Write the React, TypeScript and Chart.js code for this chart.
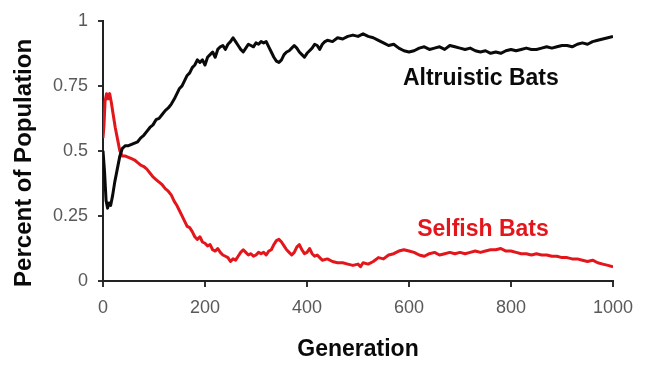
import React, { useEffect, useRef } from "react";
import { Chart, registerables } from "chart.js";

Chart.register(...registerables);

// Altruistic bats (black line)
const altGen = [0, 3, 6, 9, 12, 15, 19, 23, 28, 33, 38, 44, 50, 56, 62, 68, 74, 80, 86, 92, 98, 104, 110, 116, 122, 128, 134, 140, 145, 150, 155, 160, 165, 170, 175, 180, 185, 190, 195, 200, 205, 210, 215, 220, 225, 230, 235, 240, 245, 250, 255, 260, 265, 270, 275, 280, 285, 290, 295, 300, 305, 310, 315, 320, 325, 330, 335, 340, 345, 350, 355, 360, 365, 370, 375, 380, 385, 390, 395, 400, 405, 410, 415, 420, 425, 430, 435, 440, 450, 460, 470, 480, 490, 500, 510, 520, 530, 540, 550, 560, 570, 580, 590, 600, 610, 620, 630, 640, 650, 660, 670, 680, 690, 700, 710, 720, 730, 740, 750, 760, 770, 780, 790, 800, 810, 820, 830, 840, 850, 860, 870, 880, 890, 900, 910, 920, 930, 940, 950, 960, 970, 980, 990, 1000];
const altVal = [0.50, 0.42, 0.31, 0.28, 0.30, 0.29, 0.33, 0.38, 0.43, 0.48, 0.51, 0.52, 0.52, 0.525, 0.53, 0.535, 0.55, 0.56, 0.575, 0.59, 0.60, 0.62, 0.625, 0.64, 0.655, 0.665, 0.68, 0.70, 0.72, 0.74, 0.75, 0.77, 0.79, 0.80, 0.82, 0.83, 0.85, 0.84, 0.85, 0.83, 0.86, 0.87, 0.88, 0.86, 0.89, 0.90, 0.905, 0.89, 0.91, 0.92, 0.935, 0.92, 0.905, 0.89, 0.88, 0.895, 0.91, 0.905, 0.90, 0.915, 0.91, 0.92, 0.915, 0.92, 0.90, 0.88, 0.86, 0.845, 0.84, 0.85, 0.87, 0.88, 0.885, 0.895, 0.905, 0.895, 0.88, 0.87, 0.86, 0.875, 0.885, 0.895, 0.91, 0.905, 0.89, 0.91, 0.92, 0.925, 0.92, 0.935, 0.93, 0.94, 0.945, 0.94, 0.95, 0.94, 0.935, 0.925, 0.915, 0.905, 0.91, 0.895, 0.885, 0.88, 0.885, 0.895, 0.90, 0.89, 0.895, 0.90, 0.89, 0.905, 0.90, 0.895, 0.89, 0.895, 0.885, 0.88, 0.885, 0.875, 0.88, 0.875, 0.885, 0.89, 0.885, 0.89, 0.895, 0.89, 0.89, 0.895, 0.90, 0.895, 0.90, 0.905, 0.905, 0.90, 0.91, 0.915, 0.91, 0.92, 0.925, 0.93, 0.935, 0.94];

// Selfish bats (red line)
const selGen = [0, 2, 4, 7, 10, 13, 16, 20, 24, 28, 33, 38, 44, 50, 56, 62, 68, 74, 80, 86, 92, 98, 104, 110, 116, 122, 128, 134, 140, 145, 150, 155, 160, 165, 170, 175, 180, 185, 190, 195, 200, 205, 210, 215, 220, 225, 230, 235, 240, 245, 250, 255, 260, 265, 270, 275, 280, 285, 290, 295, 300, 305, 310, 315, 320, 325, 330, 335, 340, 345, 350, 355, 360, 365, 370, 375, 380, 385, 390, 395, 400, 405, 410, 415, 420, 425, 430, 440, 450, 460, 470, 480, 490, 500, 505, 510, 520, 530, 540, 550, 560, 570, 580, 590, 600, 610, 620, 630, 640, 650, 660, 670, 680, 690, 700, 710, 720, 730, 740, 750, 760, 770, 780, 790, 800, 810, 820, 830, 840, 850, 860, 870, 880, 890, 900, 910, 920, 930, 940, 950, 960, 970, 980, 990, 1000];
const selVal = [0.55, 0.60, 0.69, 0.72, 0.70, 0.72, 0.69, 0.64, 0.59, 0.55, 0.50, 0.48, 0.48, 0.475, 0.47, 0.465, 0.455, 0.445, 0.44, 0.43, 0.415, 0.40, 0.39, 0.38, 0.37, 0.355, 0.345, 0.33, 0.305, 0.29, 0.27, 0.25, 0.23, 0.21, 0.205, 0.19, 0.17, 0.16, 0.17, 0.15, 0.145, 0.135, 0.14, 0.12, 0.115, 0.125, 0.11, 0.10, 0.095, 0.09, 0.075, 0.085, 0.08, 0.095, 0.11, 0.12, 0.11, 0.10, 0.105, 0.095, 0.10, 0.11, 0.105, 0.11, 0.10, 0.115, 0.12, 0.14, 0.155, 0.16, 0.15, 0.135, 0.12, 0.11, 0.10, 0.11, 0.13, 0.14, 0.12, 0.105, 0.11, 0.125, 0.105, 0.095, 0.10, 0.09, 0.08, 0.085, 0.075, 0.07, 0.07, 0.065, 0.06, 0.065, 0.055, 0.07, 0.065, 0.075, 0.09, 0.085, 0.10, 0.105, 0.115, 0.12, 0.115, 0.11, 0.10, 0.095, 0.105, 0.11, 0.10, 0.105, 0.11, 0.105, 0.11, 0.105, 0.11, 0.115, 0.11, 0.115, 0.12, 0.12, 0.125, 0.115, 0.115, 0.11, 0.105, 0.105, 0.10, 0.105, 0.10, 0.10, 0.095, 0.095, 0.09, 0.09, 0.085, 0.085, 0.08, 0.075, 0.08, 0.07, 0.065, 0.06, 0.055];

const xTicks = [0, 200, 400, 600, 800, 1000];
const yTicks = [0, 0.25, 0.5, 0.75, 1];

const xTitle = "Generation";
const yTitle = "Percent of Population";
const seriesLabels = ["Altruistic Bats", "Selfish Bats"];
// anchor (generation, value) of the in-chart series labels
const labelAnchors = [
  [588, 0.752],
  [616, 0.173],
];

const BLACK = "#0a0a0a";
const RED = "#e3161b";
const FAMILY = "'Liberation Sans', Arial, sans-serif";

export default function App() {
  const ref = useRef<HTMLCanvasElement | null>(null);

  useEffect(() => {
    document.body.style.margin = "0";
    const canvas = ref.current;
    if (!canvas) return;

    const textPlugin = {
      id: "textPlugin",
      afterDraw(chart: any) {
        const { ctx, chartArea, scales } = chart;
        ctx.save();
        ctx.font = "bold 23px " + FAMILY;
        ctx.textBaseline = "alphabetic";
        ctx.textAlign = "left";
        const colors = [BLACK, RED];
        seriesLabels.forEach((t, i) => {
          ctx.fillStyle = colors[i];
          ctx.fillText(
            t,
            scales.x.getPixelForValue(labelAnchors[i][0]),
            scales.y.getPixelForValue(labelAnchors[i][1])
          );
        });
        // y axis title
        ctx.font = "bold 24px " + FAMILY;
        ctx.translate(24, (chartArea.top + chartArea.bottom) / 2 + 12);
        ctx.rotate(-Math.PI / 2);
        ctx.textAlign = "center";
        ctx.textBaseline = "middle";
        ctx.fillStyle = BLACK;
        ctx.fillText(yTitle, 0, 0);
        ctx.restore();
      },
    };

    const chart = new Chart(canvas, {
      type: "line",
      data: {
        datasets: [
          {
            label: seriesLabels[0],
            data: altGen.map((g, i) => ({ x: g, y: altVal[i] })),
            borderColor: BLACK,
            borderWidth: 3,
            pointRadius: 0,
            tension: 0,
            borderJoinStyle: "round",
          },
          {
            label: seriesLabels[1],
            data: selGen.map((g, i) => ({ x: g, y: selVal[i] })),
            borderColor: RED,
            borderWidth: 3,
            pointRadius: 0,
            tension: 0,
            borderJoinStyle: "round",
          },
        ],
      },
      options: {
        responsive: false,
        animation: false,
        layout: { padding: { left: 0, right: 35, top: 15, bottom: 0 } },
        plugins: { legend: { display: false }, tooltip: { enabled: false } },
        scales: {
          x: {
            type: "linear",
            min: 0,
            max: 1000,
            afterBuildTicks: (s: any) => {
              s.ticks = xTicks.map((v) => ({ value: v }));
            },
            afterFit: (s: any) => {
              s.height = 89;
            },
            ticks: {
              color: "#595959",
              font: { family: FAMILY, size: 18 },
              padding: 10,
              maxRotation: 0,
              callback: (v: any) => String(v),
            },
            grid: {
              display: true,
              drawOnChartArea: false,
              drawTicks: true,
              tickLength: 6,
              color: "#333",
              lineWidth: 2,
            },
            border: { display: true, color: "#222", width: 2 },
            title: {
              display: true,
              text: xTitle,
              color: BLACK,
              font: { family: FAMILY, size: 23, weight: "bold" },
              padding: { top: 0, bottom: 7 },
            },
          },
          y: {
            type: "linear",
            min: 0,
            max: 1,
            afterBuildTicks: (s: any) => {
              s.ticks = yTicks.map((v) => ({ value: v }));
            },
            afterFit: (s: any) => {
              s.width = 103;
            },
            ticks: {
              color: "#595959",
              font: { family: FAMILY, size: 18 },
              padding: 10,
              callback: (v: any) => String(v),
            },
            grid: {
              display: true,
              drawOnChartArea: false,
              drawTicks: true,
              tickLength: 5,
              color: "#333",
              lineWidth: 2,
            },
            border: { display: true, color: "#222", width: 2 },
          },
        },
      },
      plugins: [textPlugin],
    });

    return () => chart.destroy();
  }, []);

  return (
    <div style={{ position: "absolute", left: 0, top: 0, width: 648, height: 370, background: "#fff" }}>
      <canvas ref={ref} width={648} height={370} />
    </div>
  );
}
